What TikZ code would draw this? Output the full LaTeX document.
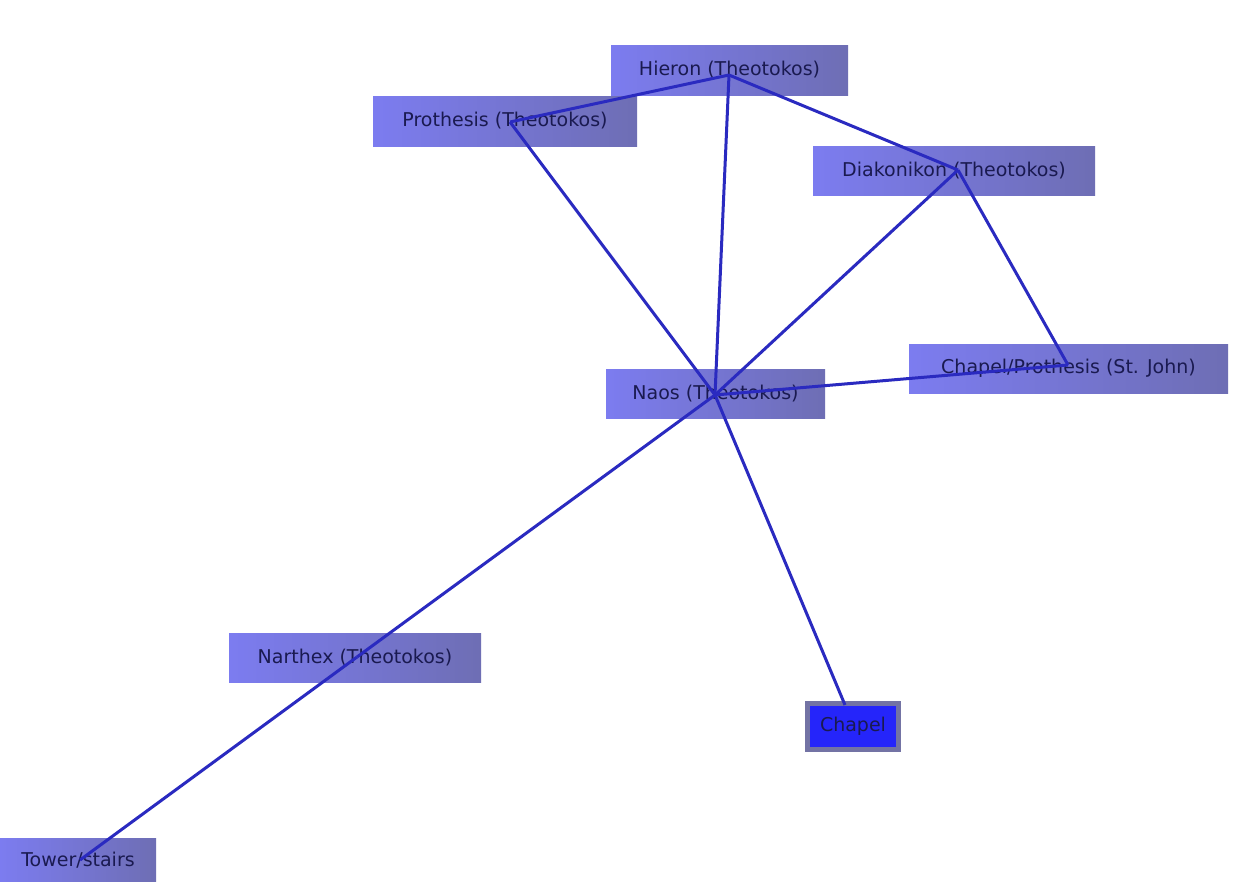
\documentclass[tikz,border=0pt]{standalone}
\usepackage{fontspec}
\setmainfont{DejaVu Sans}
\begin{document}
\begin{tikzpicture}[x=1pt,y=-1pt,
  box/.style={left color=boxL,right color=boxR,draw=none,inner sep=0pt,text=txt,font=\fontsize{19}{22}\selectfont},
  edge/.style={draw=edgec,line width=3pt}]
\definecolor{boxL}{HTML}{7C7CF0}
\definecolor{boxR}{HTML}{6E6EB4}
\definecolor{txt}{HTML}{1A1A50}
\definecolor{edgec}{HTML}{2A2AC0}
\useasboundingbox[fill=white] (0,0) rectangle (1241,881);
\node[box,minimum width=237pt,minimum height=50pt] (hie) at (729.5,70) {Hieron (Theotokos)};
\node[box,minimum width=264pt,minimum height=50pt] (pro) at (505,121) {Prothesis (Theotokos)};
\node[box,minimum width=282pt,minimum height=49pt] (dia) at (954,170.5) {Diakonikon (Theotokos)};
\node[box,minimum width=319pt,minimum height=49pt] (cpj) at (1068.5,368.5) {Chapel/Prothesis (St. John)};
\node[box,minimum width=219pt,minimum height=49pt] (nao) at (715.5,393.5) {Naos (Theotokos)};
\node[box,minimum width=252pt,minimum height=49pt] (nar) at (355,657.5) {Narthex (Theotokos)};
\node[box,minimum width=156pt,minimum height=43pt] (tow) at (78,860) {Tower/stairs};
\node[fill=boxR!70!gray,minimum width=96pt,minimum height=51pt,inner sep=0pt] (chf) at (853,726.5) {};
\node[fill=blue!70!boxL,minimum width=86pt,minimum height=41pt,inner sep=0pt,text=txt,font=\fontsize{19}{22}\selectfont] (cha) at (853,726.5) {Chapel};
\coordinate (ph) at (729,75);
\coordinate (pp) at (510,122);
\coordinate (pd) at (958,170);
\coordinate (pn) at (715,395);
\coordinate (pc) at (1068,365);
\coordinate (pr) at (357,657);
\coordinate (pt) at (80,860);
\coordinate (pk) at (845,705);
\draw[edge] (ph) -- (pp);
\draw[edge] (ph) -- (pd);
\draw[edge] (ph) -- (pn);
\draw[edge] (pp) -- (pn);
\draw[edge] (pd) -- (pn);
\draw[edge] (pd) -- (pc);
\draw[edge] (pn) -- (pc);
\draw[edge] (pn) -- (pr);
\draw[edge] (pr) -- (pt);
\draw[edge] (pn) -- (pk);
\end{tikzpicture}
\end{document}
